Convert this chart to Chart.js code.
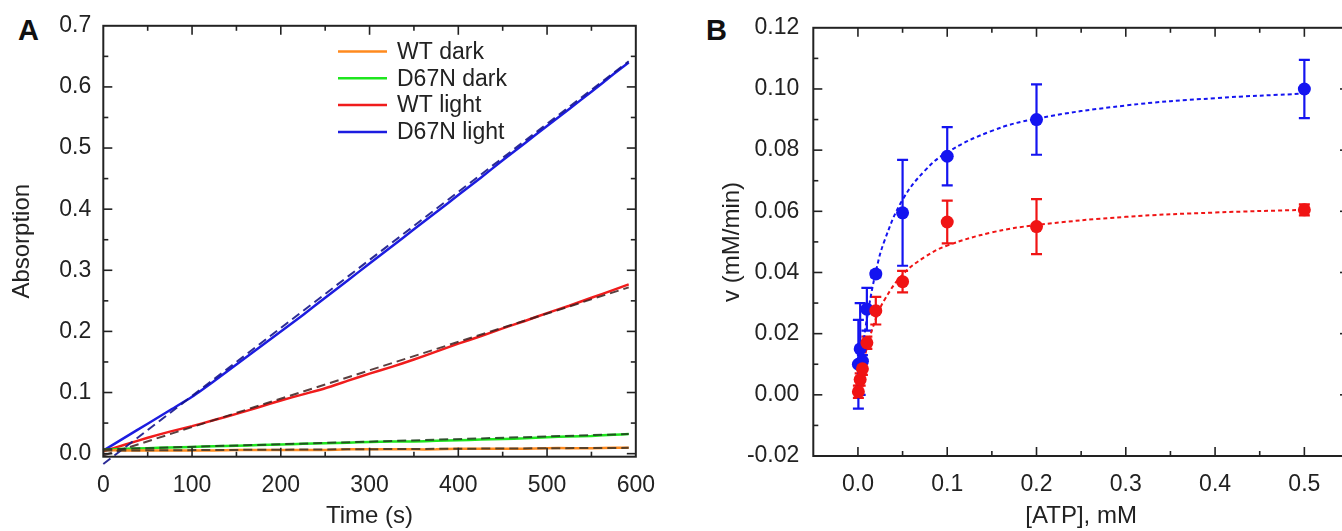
<!DOCTYPE html>
<html lang="en">
<head>
    <meta charset="UTF-8">
    <title>ATPase activity: absorption traces and Michaelis-Menten fit</title>
    <script src="https://cdn.jsdelivr.net/npm/chart.js@4.4.0/dist/chart.umd.min.js"></script>
    <style>
        * { margin: 0; padding: 0; box-sizing: border-box; }
        body {
            width: 1342px;
            height: 531px;
            overflow: hidden;
            position: relative;
            background: #fff;
            font-family: 'Liberation Sans', Arial, sans-serif;
        }
        .panel { position: absolute; top: 0; }
        #panelA { left: 0; }
        #panelB { left: 670px; }
        .letter {
            position: absolute;
            font-weight: bold;
            font-size: 29px;
            color: #111;
            line-height: 1;
        }
    </style>
</head>
<body>
    <div class="letter" style="left:18px; top:16px;">A</div>
    <div class="letter" style="left:706px; top:16px;">B</div>
    <canvas id="panelA" class="panel" width="670" height="531"></canvas>
    <canvas id="panelB" class="panel" width="700" height="531"></canvas>

    <script>
        // ---------- Panel A: absorption vs time ----------
        const timeA = [0, 25, 50, 75, 100, 125, 150, 175, 200, 225, 250, 275, 300,
                       325, 350, 375, 400, 425, 450, 475, 500, 525, 550, 575, 592];
        const wtDark    = [0.006, 0.005, 0.005, 0.005, 0.005, 0.005, 0.006, 0.006, 0.006, 0.006, 0.006, 0.007, 0.007,
                           0.007, 0.007, 0.007, 0.008, 0.008, 0.008, 0.008, 0.009, 0.009, 0.009, 0.0095, 0.0095];
        const d67nDark  = [0.006, 0.008, 0.009, 0.010, 0.011, 0.012, 0.013, 0.014, 0.015, 0.016, 0.017, 0.018, 0.019,
                           0.020, 0.020, 0.021, 0.022, 0.023, 0.024, 0.025, 0.027, 0.028, 0.029, 0.031, 0.032];
        const wtLight   = [0.004, 0.015, 0.026, 0.036, 0.045, 0.055, 0.065, 0.076, 0.087, 0.097, 0.107, 0.119, 0.131,
                           0.142, 0.154, 0.167, 0.180, 0.192, 0.205, 0.217, 0.230, 0.242, 0.255, 0.268, 0.277];
        const d67nLight = [0.005, 0.027, 0.049, 0.071, 0.093, 0.119, 0.146, 0.173, 0.200, 0.227, 0.255, 0.283, 0.311,
                           0.339, 0.367, 0.395, 0.423, 0.451, 0.480, 0.508, 0.536, 0.564, 0.592, 0.621, 0.640];

        // linear fits (start and end of each dashed line)
        const fitTimeA     = [0, 592];
        const wtDarkFit    = [0.005, 0.0095];
        const d67nDarkFit  = [0.007, 0.032];
        const wtLightFit   = [-0.003, 0.272];
        const d67nLightFit = [-0.017, 0.642];

        const seriesNamesA = ['WT dark', 'D67N dark', 'WT light', 'D67N light'];
        const xTicksA = [0, 100, 200, 300, 400, 500, 600];
        const yTicksA = [0, 0.1, 0.2, 0.3, 0.4, 0.5, 0.6, 0.7];

        // ---------- Panel B: rate vs [ATP] ----------
        const atpBlue  = [0.0005, 0.0025, 0.005, 0.01, 0.02, 0.05, 0.1, 0.2, 0.5];
        const rateBlue = [0.010, 0.015, 0.011, 0.028, 0.0395, 0.0595, 0.078, 0.090, 0.100];
        const errBlue  = [0.0145, 0.015, 0.002, 0.007, 0.001, 0.0173, 0.0095, 0.0115, 0.0095];

        const atpRed   = [0.0005, 0.0025, 0.005, 0.01, 0.02, 0.05, 0.1, 0.2, 0.5];
        const rateRed  = [0.001, 0.005, 0.0085, 0.017, 0.0275, 0.037, 0.0565, 0.055, 0.0605];
        const errRed   = [0.002, 0.002, 0.002, 0.002, 0.0045, 0.0035, 0.007, 0.009, 0.0018];

        // fitted curves
        const atpFit      = [0, 0.005, 0.01, 0.02, 0.03, 0.05, 0.075, 0.1, 0.15, 0.2, 0.3, 0.4, 0.5];
        const blueFitRate = [0, 0.0141, 0.0248, 0.0402, 0.0506, 0.0638, 0.0733, 0.0793, 0.0863, 0.0903, 0.0946, 0.0970, 0.0985];
        const redFitRate  = [0, 0.0087, 0.0153, 0.0248, 0.0312, 0.0393, 0.0451, 0.0488, 0.0531, 0.0555, 0.0582, 0.0596, 0.0605];

        const xTicksB = [0, 0.1, 0.2, 0.3, 0.4, 0.5];
        const yTicksB = [-0.02, 0, 0.02, 0.04, 0.06, 0.08, 0.10, 0.12];

        // ---------- helpers ----------
        const FONT = "'Liberation Sans', Arial, sans-serif";
        const INK = '#222';
        const pts = (xs, ys) => xs.map((x, i) => ({ x: x, y: ys[i] }));
        const mids = arr => {
            const out = [];
            for (let i = 0; i < arr.length - 1; i++) out.push((arr[i] + arr[i + 1]) / 2);
            const step = arr[1] - arr[0];
            out.push(arr[0] - step / 2, arr[arr.length - 1] + step / 2);
            return out;
        };

        // box frame with inward ticks on all four sides
        const frameTicks = {
            id: 'frameTicks',
            afterDatasetsDraw(chart) {
                const { ctx, chartArea: a, scales } = chart;
                const sx = scales.x, sy = scales.y;
                ctx.save();
                ctx.strokeStyle = INK;
                ctx.lineWidth = 1.6;
                const seg = (x1, y1, x2, y2) => { ctx.beginPath(); ctx.moveTo(x1, y1); ctx.lineTo(x2, y2); ctx.stroke(); };
                const doX = (vals, len) => vals.forEach(v => {
                    const p = sx.getPixelForValue(v);
                    if (p <= a.left + 1 || p >= a.right - 1) return;
                    seg(p, a.bottom, p, a.bottom - len);
                    seg(p, a.top, p, a.top + len);
                });
                const doY = (vals, len) => vals.forEach(v => {
                    const p = sy.getPixelForValue(v);
                    if (p <= a.top + 1 || p >= a.bottom - 1) return;
                    seg(a.left, p, a.left + len, p);
                    seg(a.right, p, a.right - len, p);
                });
                const xt = sx.ticks.map(t => t.value), yt = sy.ticks.map(t => t.value);
                doX(xt, 9); doX(mids(xt), 5);
                doY(yt, 9); doY(mids(yt), 5);
                ctx.lineWidth = 2;
                ctx.strokeRect(a.left, a.top, a.right - a.left, a.bottom - a.top);
                ctx.restore();
            }
        };

        // legend for panel A drawn inside the plot
        const legendA = {
            id: 'legendA',
            afterDraw(chart) {
                const ctx = chart.ctx;
                ctx.save();
                ctx.font = '23px ' + FONT;
                ctx.textBaseline = 'middle';
                ctx.fillStyle = INK;
                seriesNamesA.forEach((name, i) => {
                    const ds = chart.data.datasets.find(d => d.label === name);
                    const y = 51.5 + i * 26.8;
                    ctx.strokeStyle = ds.borderColor;
                    ctx.lineWidth = 2.5;
                    ctx.beginPath(); ctx.moveTo(338, y); ctx.lineTo(387, y); ctx.stroke();
                    ctx.fillText(name, 397, y + 1);
                });
                ctx.restore();
            }
        };

        // vertical error bars with caps for panel B
        const errorBars = {
            id: 'errorBars',
            beforeDatasetsDraw(chart) {
                const { ctx, scales: { x, y } } = chart;
                ctx.save();
                chart.data.datasets.forEach(ds => {
                    if (!ds.errors) return;
                    ctx.strokeStyle = ds.backgroundColor;
                    ctx.lineWidth = 2.2;
                    ds.data.forEach((p, i) => {
                        const px = x.getPixelForValue(p.x);
                        const top = y.getPixelForValue(p.y + ds.errors[i]);
                        const bot = y.getPixelForValue(p.y - ds.errors[i]);
                        ctx.beginPath();
                        ctx.moveTo(px, top); ctx.lineTo(px, bot);
                        ctx.moveTo(px - 5.5, top); ctx.lineTo(px + 5.5, top);
                        ctx.moveTo(px - 5.5, bot); ctx.lineTo(px + 5.5, bot);
                        ctx.stroke();
                    });
                });
                ctx.restore();
            }
        };

        function axis(opts) {
            return {
                type: 'linear',
                min: opts.min,
                max: opts.max,
                grid: { display: false, drawTicks: false },
                border: { display: false },
                afterBuildTicks: s => { s.ticks = opts.ticks.map(v => ({ value: v })); },
                afterFit: s => { if (opts.width) s.width = opts.width; if (opts.height) s.height = opts.height; },
                ticks: {
                    color: INK,
                    font: { family: FONT, size: 23 },
                    padding: opts.pad,
                    maxRotation: 0,
                    autoSkip: false,
                    callback: opts.fmt
                },
                title: {
                    display: true,
                    text: opts.title,
                    color: INK,
                    font: { family: FONT, size: 24 },
                    padding: opts.titlePad
                }
            };
        }

        const baseOptions = {
            responsive: false,
            animation: false,
            plugins: { legend: { display: false }, tooltip: { enabled: false } }
        };

        // ---------- chart A ----------
        const colA = { wtDark: '#ff8a1e', d67nDark: '#1ee61e', wtLight: '#f01c1c', d67nLight: '#1c1ce0' };
        const fitLine = (ys, color) => ({
            data: pts(fitTimeA, ys), borderColor: color, borderWidth: 2, borderDash: [9, 5],
            pointRadius: 0, fill: false, clip: false, isFit: true
        });
        const solidLine = (label, ys, color) => ({
            label: label, data: pts(timeA, ys), borderColor: color, borderWidth: 2.5,
            pointRadius: 0, fill: false, tension: 0.2, clip: false
        });

        new Chart(document.getElementById('panelA'), {
            type: 'line',
            data: {
                datasets: [
                    fitLine(wtDarkFit, 'rgba(60,50,40,0.85)'),
                    fitLine(d67nDarkFit, 'rgba(30,60,30,0.85)'),
                    fitLine(wtLightFit, 'rgba(60,30,30,0.85)'),
                    fitLine(d67nLightFit, 'rgba(20,20,140,0.9)'),
                    solidLine(seriesNamesA[0], wtDark, colA.wtDark),
                    solidLine(seriesNamesA[1], d67nDark, colA.d67nDark),
                    solidLine(seriesNamesA[2], wtLight, colA.wtLight),
                    solidLine(seriesNamesA[3], d67nLight, colA.d67nLight)
                ]
            },
            options: Object.assign({}, baseOptions, {
                layout: { padding: { left: 0, top: 24, right: 30, bottom: 0 } },
                scales: {
                    x: axis({ min: 0, max: 600, ticks: xTicksA, fmt: v => String(v), pad: 15,
                              title: 'Time (s)', titlePad: { top: 0, bottom: 0 }, height: 74.3 }),
                    y: axis({ min: -0.005, max: 0.7, ticks: yTicksA, fmt: v => v.toFixed(1), pad: 12,
                              title: 'Absorption', titlePad: { top: 8, bottom: 0 }, width: 103.3 })
                }
            }),
            plugins: [frameTicks, legendA]
        });

        // ---------- chart B ----------
        const BLUE = '#1414f0', RED = '#f01414';
        new Chart(document.getElementById('panelB'), {
            type: 'scatter',
            data: {
                datasets: [
                    { label: 'WT', data: pts(atpRed, rateRed), errors: errRed, backgroundColor: RED,
                      borderColor: RED, pointRadius: 6.5, pointBorderWidth: 0 },
                    { label: 'D67N', data: pts(atpBlue, rateBlue), errors: errBlue, backgroundColor: BLUE,
                      borderColor: BLUE, pointRadius: 6.5, pointBorderWidth: 0 },
                    { type: 'line', data: pts(atpFit, redFitRate), borderColor: RED, borderWidth: 2,
                      borderDash: [4, 3], pointRadius: 0, tension: 0.4, fill: false },
                    { type: 'line', data: pts(atpFit, blueFitRate), borderColor: BLUE, borderWidth: 2,
                      borderDash: [4, 3], pointRadius: 0, tension: 0.4, fill: false }
                ]
            },
            options: Object.assign({}, baseOptions, {
                layout: { padding: { left: 0, top: 24, right: 21, bottom: 0 } },
                scales: {
                    x: axis({ min: -0.05, max: 0.55, ticks: xTicksB, fmt: v => v.toFixed(1), pad: 15,
                              title: '[ATP], mM', titlePad: { top: 0, bottom: 0 }, height: 75 }),
                    y: axis({ min: -0.02, max: 0.12, ticks: yTicksB, fmt: v => v.toFixed(2), pad: 14,
                              title: 'v (mM/min)', titlePad: { top: 48, bottom: 0 }, width: 143.3 })
                }
            }),
            plugins: [errorBars, frameTicks]
        });
    </script>
</body>
</html>
